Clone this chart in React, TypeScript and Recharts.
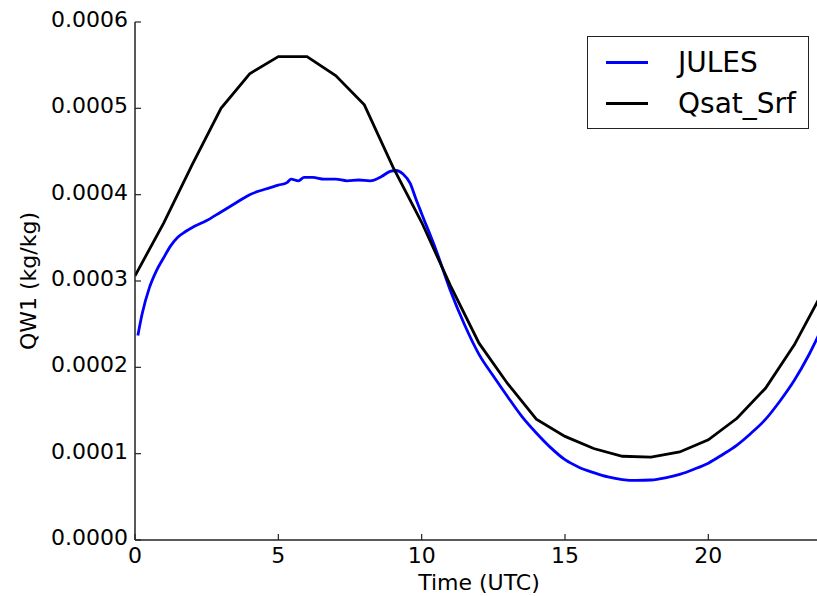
import { LineChart, Line, XAxis, YAxis, Legend } from 'recharts'

// JULES model output (sub-hourly, smooth)
const JULES_TIME = [
  0.1, 0.25, 0.5, 0.75, 1.0, 1.25, 1.5, 1.75, 2.0, 2.5, 3.0, 3.5, 4.0, 4.5, 5.0, 5.3, 5.45, 5.7, 5.9,
  6.2, 6.6, 7.0, 7.4, 7.8, 8.2, 8.6, 8.9, 9.1, 9.35, 9.6, 9.8, 10.0, 10.5, 11.0, 11.5, 12.0, 12.5,
  13.0, 13.5, 14.0, 14.5, 15.0, 15.5, 16.0, 16.5, 17.0, 17.5, 18.0, 18.5, 19.0, 19.5, 20.0, 20.5,
  21.0, 21.5, 22.0, 22.5, 23.0, 23.5, 24.0,
]
const JULES_QW1 = [
  0.000237, 0.000262, 0.000292, 0.000312, 0.000327, 0.000341, 0.000351, 0.000357, 0.000362, 0.00037,
  0.00038, 0.00039, 0.0004, 0.000406, 0.000411, 0.000414, 0.000418, 0.000416, 0.00042, 0.00042,
  0.000418, 0.000418, 0.000416, 0.000417, 0.000416, 0.000421, 0.000427, 0.000428, 0.000424, 0.000413,
  0.000395, 0.000378, 0.000336, 0.000289, 0.000249, 0.000215, 0.00019, 0.000166, 0.000143, 0.000124,
  0.000107, 0.000093, 0.000084, 0.000078, 0.000073, 0.00007, 0.000069, 0.0000695, 0.000072, 0.000076,
  0.000082, 0.000089, 0.000099, 0.00011, 0.000124, 0.00014, 0.000161, 0.000185, 0.000214, 0.000248,
]

// hourly surface saturation humidity
const QSAT_TIME = [0, 1, 2, 3, 4, 5, 6, 7, 8, 9, 10, 11, 12, 13, 14, 15, 16, 17, 18, 19, 20, 21, 22, 23, 24]
const QSAT_QW1 = [
  0.000306, 0.000367, 0.000435, 0.0005, 0.00054, 0.00056, 0.00056, 0.000538, 0.000504, 0.000432,
  0.000368, 0.000295, 0.000228, 0.000181, 0.00014, 0.00012, 0.000106, 0.000097, 0.000096, 0.000102,
  0.000116, 0.000141, 0.000176, 0.000226, 0.000288,
]

const X_TICKS = [0, 5, 10, 15, 20]
const Y_TICKS = [0, 0.0001, 0.0002, 0.0003, 0.0004, 0.0005, 0.0006]

const julesData = JULES_TIME.map((t, i) => ({ t, v: JULES_QW1[i] }))
const qsatData = QSAT_TIME.map((t, i) => ({ t, v: QSAT_QW1[i] }))

const SERIES = [
  { name: 'JULES', color: '#0000ff' },
  { name: 'Qsat_Srf', color: '#000000' },
]

const FONT = '"DejaVu Sans", sans-serif'
const SPINE = '#222'

const BottomTick = ({ x, y, payload }: any) => (
  <g>
    <line x1={x} y1={y} x2={x} y2={y - 6} stroke={SPINE} strokeWidth={1.2} />
    <text x={x} y={y + 23} textAnchor="middle" fontSize={22} fontFamily={FONT} fill="#000">
      {payload.value}
    </text>
  </g>
)

const TopTick = ({ x, y }: any) => (
  <line x1={x} y1={y} x2={x} y2={y + 6} stroke={SPINE} strokeWidth={1.2} />
)

const LeftTick = ({ x, y, payload }: any) => (
  <g>
    <line x1={x} y1={y} x2={x + 6} y2={y} stroke={SPINE} strokeWidth={1.2} />
    <text x={x - 7} y={y + 5} textAnchor="end" fontSize={22} fontFamily={FONT} fill="#000">
      {Number(payload.value).toFixed(4)}
    </text>
  </g>
)

const RightTick = ({ x, y }: any) => (
  <line x1={x} y1={y} x2={x - 6} y2={y} stroke={SPINE} strokeWidth={1.2} />
)

const LegendBox = () => (
  <div
    style={{
      width: 222,
      height: 93,
      boxSizing: 'border-box',
      border: `1.5px solid ${SPINE}`,
      background: '#fff',
      fontFamily: FONT,
      fontSize: 28,
      color: '#000',
      paddingTop: 5,
    }}
  >
    {SERIES.map((s) => (
      <div key={s.name} style={{ display: 'flex', alignItems: 'center', height: 41 }}>
        <div style={{ width: 42, height: 3, background: s.color, marginLeft: 18, marginRight: 30 }} />
        <span>{s.name}</span>
      </div>
    ))}
  </div>
)

export default function App() {
  return (
    <div style={{ position: 'fixed', left: 0, top: 0, width: 817, height: 596, overflow: 'hidden', background: '#fff' }}>
      <LineChart width={841} height={596} margin={{ top: 22, right: 18, bottom: 0, left: 0 }}>
        <XAxis
          dataKey="t"
          type="number"
          domain={[0, 24]}
          allowDataOverflow
          ticks={X_TICKS}
          interval={0}
          height={56}
          tickSize={0}
          tickMargin={0}
          tickLine={false}
          axisLine={{ stroke: SPINE, strokeWidth: 1.5 }}
          tick={<BottomTick />}
          label={{ value: 'Time (UTC)', position: 'insideBottom', offset: 6, fontSize: 22, fontFamily: FONT, fill: '#000' }}
        />
        <XAxis
          xAxisId="top"
          orientation="top"
          type="number"
          domain={[0, 24]}
          allowDataOverflow
          ticks={X_TICKS}
          interval={0}
          height={0}
          tickSize={0}
          tickMargin={0}
          tickLine={false}
          axisLine={{ stroke: SPINE, strokeWidth: 1.5 }}
          tick={<TopTick />}
        />
        <YAxis
          type="number"
          domain={[0, 0.0006]}
          allowDataOverflow
          ticks={Y_TICKS}
          interval={0}
          width={135}
          tickSize={0}
          tickMargin={0}
          tickLine={false}
          axisLine={{ stroke: SPINE, strokeWidth: 1.5 }}
          tick={<LeftTick />}
          label={{ value: 'QW1 (kg/kg)', angle: -90, position: 'center', dx: -39, fontSize: 22, fontFamily: FONT, fill: '#000' }}
        />
        <YAxis
          yAxisId="right"
          orientation="right"
          type="number"
          domain={[0, 0.0006]}
          allowDataOverflow
          ticks={Y_TICKS}
          interval={0}
          width={0}
          tickSize={0}
          tickMargin={0}
          tickLine={false}
          axisLine={{ stroke: SPINE, strokeWidth: 1.5 }}
          tick={<RightTick />}
        />
        <Legend
          layout="vertical"
          align="center"
          verticalAlign="middle"
          content={<LegendBox />}
          wrapperStyle={{ left: 587, top: 36, width: 222, height: 93 }}
        />
        <Line
          data={julesData}
          dataKey="v"
          name="JULES"
          type="monotone"
          stroke="#0000ff"
          strokeWidth={2.8}
          dot={false}
          isAnimationActive={false}
        />
        <Line
          data={qsatData}
          dataKey="v"
          name="Qsat_Srf"
          type="linear"
          stroke="#000000"
          strokeWidth={2.8}
          dot={false}
          isAnimationActive={false}
        />
      </LineChart>
    </div>
  )
}
